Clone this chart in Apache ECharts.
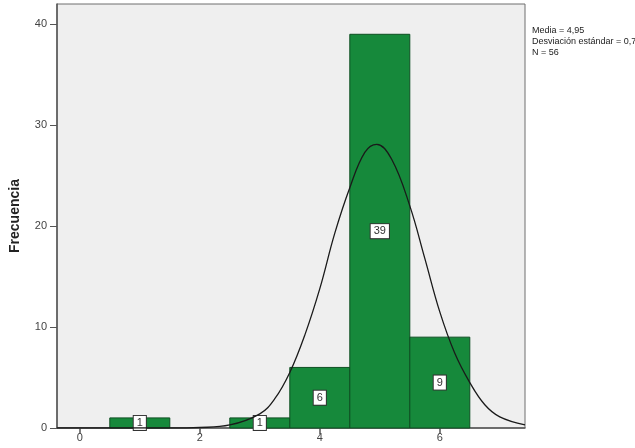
<!DOCTYPE html>
<html>
<head>
<meta charset="utf-8">
<script src="https://cdn.jsdelivr.net/npm/echarts@6/dist/echarts.min.js"></script>
<style>html,body{margin:0;padding:0;background:#fff}#c{width:635px;height:448px}</style>
</head>
<body>
<div id="c"></div>
<script>
// Histogram bins (centre of each bin) and their frequencies
var binCenters = [1, 3, 4, 5, 6];
var frequencies = [1, 1, 6, 39, 9];
// Normal curve: x values and heights
var curveX = [-0.38, 1.5, 2, 2.5, 3, 3.25, 3.5, 3.75, 4, 4.25, 4.5, 4.75, 4.95, 5.2, 5.5, 5.75, 6, 6.25, 6.5, 6.75, 7, 7.42];
var curveY = [0, 0, 0.05, 0.3, 1.4, 2.9, 5.5, 9.2, 13.8, 19.3, 23.8, 27.3, 28.1, 26.6, 22.0, 16.8, 11.5, 7.4, 4.5, 2.3, 1.1, 0.3];
var xTicks = [0, 2, 4, 6];
var yTicks = [0, 10, 20, 30, 40];
var statsLines = ['Media = 4,95', 'Desviación estándar = 0,798', 'N = 56'];
var yTitle = 'Frecuencia';

var barData = binCenters.map(function (c, i) { return [c, frequencies[i]]; });
var curveData = curveX.map(function (x, i) { return [x, curveY[i]]; });

var chart = echarts.init(document.getElementById('c'), null, {renderer: 'canvas'});
chart.setOption({
  animation: false,
  backgroundColor: '#ffffff',
  grid: {left: 57, top: 4, right: 110, bottom: 20, show: true, backgroundColor: '#efefef', borderColor: '#6e6e6e', borderWidth: 1},
  xAxis: {
    type: 'value', min: -0.38, max: 7.42,
    axisLine: {show: true, onZero: false, lineStyle: {color: '#555', width: 1.5}},
    axisTick: {show: true, length: 6, lineStyle: {color: '#555', width: 1.5}, customValues: xTicks},
    axisLabel: {color: '#444', fontSize: 11, fontFamily: 'Liberation Sans, Arial', margin: 4, customValues: xTicks,
      formatter: function (v) { return String(v); }},
    splitLine: {show: false}
  },
  yAxis: {
    type: 'value', min: 0, max: 42,
    name: yTitle, nameLocation: 'middle', nameGap: 35, nameRotate: 90,
    nameTextStyle: {color: '#222', fontSize: 14, fontWeight: 'bold', fontFamily: 'Liberation Sans, Arial'},
    axisLine: {show: true, onZero: false, lineStyle: {color: '#555', width: 1.5}},
    axisTick: {show: true, length: 7, lineStyle: {color: '#555'}, customValues: yTicks},
    axisLabel: {color: '#444', fontSize: 11, fontFamily: 'Liberation Sans, Arial', margin: 10, customValues: yTicks},
    splitLine: {show: false}
  },
  series: [
    {
      type: 'custom',
      data: barData,
      renderItem: function (params, api) {
        var c = api.value(0), v = api.value(1);
        var p0 = api.coord([c - 0.5, v]);
        var p1 = api.coord([c + 0.5, 0]);
        return {
          type: 'rect',
          shape: {x: p0[0], y: p0[1], width: p1[0] - p0[0], height: p1[1] - p0[1]},
          style: {fill: '#16893b', stroke: '#0d4f22', lineWidth: 1},
          textContent: {
            style: {text: String(v), fill: '#333', fontSize: 11, fontFamily: 'Liberation Sans, Arial',
              backgroundColor: '#ffffff', borderColor: '#333', borderWidth: 1, padding: [2, 3, 1, 3]}
          },
          textConfig: {position: 'inside'}
        };
      },
      z: 2
    },
    {
      type: 'line',
      data: curveData,
      smooth: 0.4,
      symbol: 'none',
      lineStyle: {color: '#1a1a1a', width: 1.3},
      z: 3
    }
  ],
  graphic: [{
    type: 'text', left: 532, top: 25,
    style: {text: statsLines.join('\n'), fill: '#222', fontSize: 9, lineHeight: 11, fontFamily: 'Liberation Sans, Arial'}
  }]
});
</script>
</body>
</html>
